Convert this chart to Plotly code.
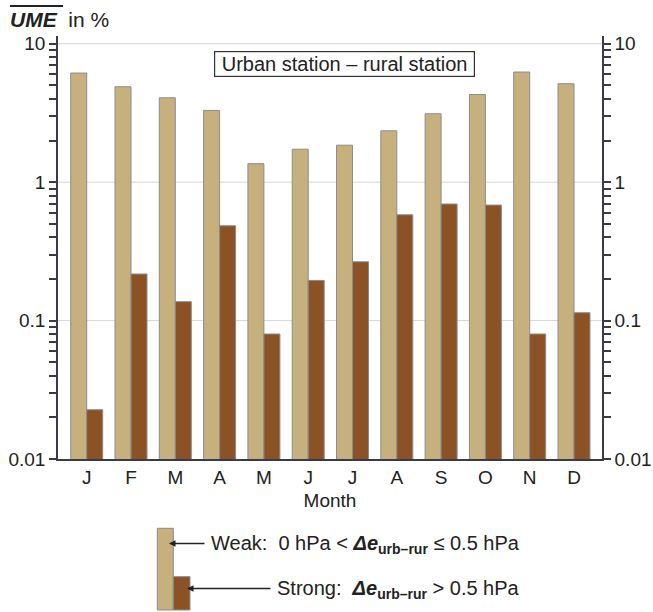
import plotly.graph_objects as go

# Monthly UME frequency (%), urban minus rural station
months = ["J", "F", "M", "A", "M", "J", "J", "A", "S", "O", "N", "D"]
weak = [6.14, 4.89, 4.07, 3.30, 1.36, 1.73, 1.85, 2.35, 3.12, 4.30, 6.25, 5.14]
strong = [0.0227, 0.217, 0.137, 0.484, 0.080, 0.195, 0.266, 0.581, 0.695, 0.683, 0.080, 0.114]
decades = [0.01, 0.1, 1, 10]
decade_text = ["0.01", "0.1", "1", "10"]

W, H = 653, 612
PL, PR, PT, PB = 58, 602, 36, 459
FONT = "Liberation Sans, Arial, Helvetica, sans-serif"
INK = "#222222"
AXIS = "#3a3a48"
TAN = "#c6b07e"
BROWN = "#8b5226"
EDGE = "#8c8c8c"
GRID = "#d6d6dc"


def px(x):
    return (x - PL) / (PR - PL)


def py(y):
    return (PB - y) / (PB - PT)


# log ticks: every 1..9 multiple per decade, labelled only at decades
tick_vals, tick_text = [], []
for d, label in zip(decades[:-1], decade_text[:-1]):
    for m in range(1, 10):
        tick_vals.append(d * m)
        tick_text.append(label if m == 1 else "")
tick_vals.append(decades[-1])
tick_text.append(decade_text[-1])

xs = list(range(len(months)))

fig = go.Figure()
fig.add_trace(go.Bar(x=xs, y=weak, name="Weak", marker=dict(color=TAN, line=dict(color=EDGE, width=1))))
fig.add_trace(go.Bar(x=xs, y=strong, name="Strong", marker=dict(color=BROWN, line=dict(color=EDGE, width=1))))
# anchors the right-hand axis (draws nothing)
fig.add_trace(go.Scatter(x=xs, y=weak, yaxis="y2", mode="none", showlegend=False, hoverinfo="skip"))

yaxis_common = dict(
    type="log",
    range=[-2, 1.056],
    tickmode="array",
    tickvals=tick_vals,
    ticktext=tick_text,
    ticks="outside",
    ticklen=7,
    tickwidth=1.5,
    tickcolor=AXIS,
    showline=True,
    linecolor=AXIS,
    linewidth=1.5,
    showgrid=False,
    automargin=False,
    tickfont=dict(family=FONT, size=19, color=INK),
    zeroline=False,
)

fig.update_layout(
    width=W,
    height=H,
    margin=dict(l=PL, r=W - PR, t=PT, b=H - PB),
    plot_bgcolor="white",
    paper_bgcolor="white",
    barmode="group",
    bargap=0.278,
    bargroupgap=0,
    showlegend=False,
    font=dict(family=FONT, color=INK),
    xaxis=dict(
        range=[-0.648, 11.632],
        tickvals=xs,
        ticktext=months,
        ticks="",
        ticklabelstandoff=0,
        showline=True,
        linecolor=AXIS,
        linewidth=1.5,
        showgrid=False,
        zeroline=False,
        automargin=False,
        tickfont=dict(family=FONT, size=19, color=INK),
        title=dict(text="Month", font=dict(family=FONT, size=19, color=INK), standoff=7),
    ),
    yaxis=dict(**yaxis_common, side="left"),
    yaxis2=dict(**yaxis_common, side="right", overlaying="y"),
)

annotations = [
    # axis title with overlined UME
    dict(x=px(8), y=py(19), xref="paper", yref="paper", xanchor="left", yanchor="middle",
         text="<b><i>UME</i></b>  in %", showarrow=False,
         font=dict(family=FONT, size=21, color=INK)),
    dict(x=px(344), y=py(64), xref="paper", yref="paper", xanchor="center", yanchor="middle",
         text=" Urban station – rural station ", showarrow=False,
         bordercolor="#333333", borderwidth=1.2, borderpad=1, bgcolor="white",
         font=dict(family=FONT, size=20, color=INK)),
    # legend texts
    dict(x=px(209), y=py(544), xref="paper", yref="paper", xanchor="left", yanchor="middle",
         text="Weak:  0 hPa < <b><i>Δe</i></b><sub><b>urb–rur</b></sub> ≤ 0.5 hPa", showarrow=False,
         font=dict(family=FONT, size=20, color=INK)),
    dict(x=px(275), y=py(589), xref="paper", yref="paper", xanchor="left", yanchor="middle",
         text="Strong:  <b><i>Δe</i></b><sub><b>urb–rur</b></sub> > 0.5 hPa", showarrow=False,
         font=dict(family=FONT, size=20, color=INK)),
    # legend arrows
    dict(x=px(169), y=py(543.5), xref="paper", yref="paper", ax=37, ay=0, text="",
         showarrow=True, arrowhead=2, arrowsize=1, arrowwidth=1.3, arrowcolor=INK),
    dict(x=px(187), y=py(588.5), xref="paper", yref="paper", ax=85, ay=0, text="",
         showarrow=True, arrowhead=2, arrowsize=1, arrowwidth=1.3, arrowcolor=INK),
]

shapes = [
    # overline on UME
    dict(type="line", xref="paper", yref="paper", x0=px(10), x1=px(63), y0=py(6), y1=py(6),
         line=dict(color=INK, width=2)),
    # legend swatches
    dict(type="rect", xref="paper", yref="paper", x0=px(157.3), x1=px(173.3), y0=py(610), y1=py(528.3),
         fillcolor=TAN, line=dict(color=EDGE, width=1)),
    dict(type="rect", xref="paper", yref="paper", x0=px(173.3), x1=px(190), y0=py(610), y1=py(576.7),
         fillcolor=BROWN, line=dict(color=EDGE, width=1)),
]
# horizontal gridlines at the labelled decades above the baseline
for d in decades[1:]:
    shapes.append(dict(type="line", xref="paper", yref="y", x0=0, x1=1, y0=d, y1=d, layer="below",
                       line=dict(color=GRID, width=1)))

fig.update_layout(annotations=annotations, shapes=shapes)
fig.write_html("out.html")
